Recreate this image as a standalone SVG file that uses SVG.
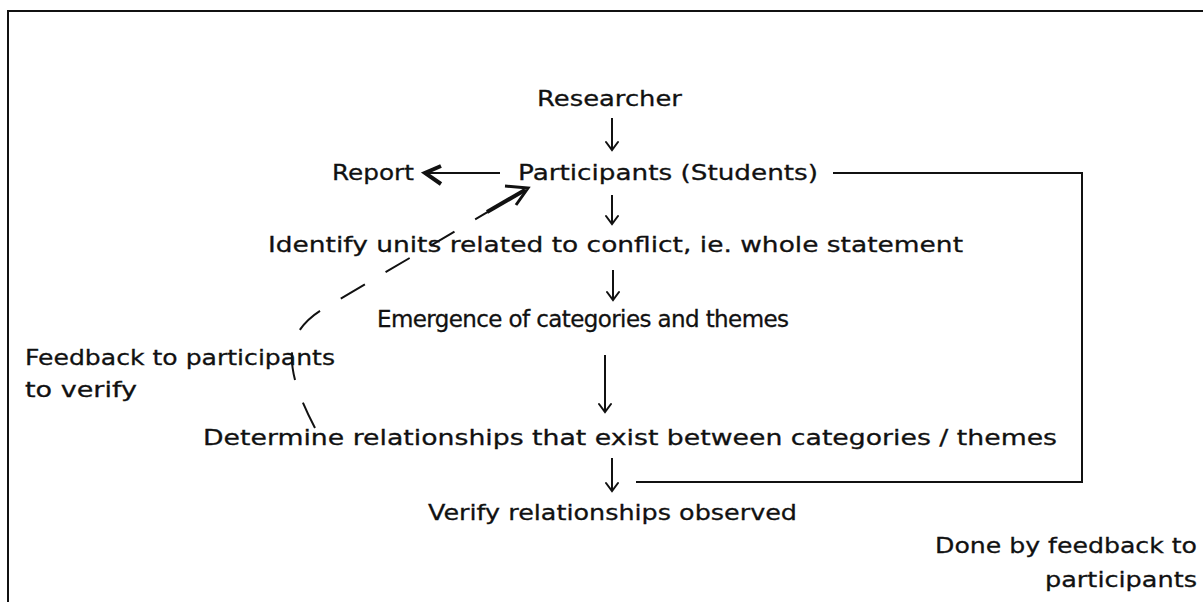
<svg xmlns="http://www.w3.org/2000/svg" width="1203" height="602" viewBox="0 0 1203 602">
<style>
text{font-family:"DejaVu Sans","Open Sans",sans-serif;font-size:22px;fill:#111;stroke:#111;stroke-width:0.3}
.ln{stroke:#111;stroke-width:2;fill:none}
</style>
<defs>
<marker id="v" markerWidth="14" markerHeight="14" refX="12" refY="7" orient="auto" markerUnits="userSpaceOnUse" viewBox="0 0 14 14">
<path d="M4 1 L12 7 L4 13" stroke="#111" stroke-width="2" fill="none" stroke-linecap="round"/>
</marker>
</defs>
<rect width="1203" height="602" fill="#fff"/>
<path class="ln" d="M8 602 V11 H1203"/>
<g id="researcher"><text x="537" y="106" textLength="145" lengthAdjust="spacingAndGlyphs">Researcher</text></g>
<g id="report"><text x="332" y="180" textLength="82" lengthAdjust="spacingAndGlyphs">Report</text></g>
<g id="participants"><text x="518" y="180" textLength="300" lengthAdjust="spacingAndGlyphs">Participants (Students)</text></g>
<g id="identify"><text x="268" y="252" textLength="695" lengthAdjust="spacingAndGlyphs">Identify units related to conflict, ie. whole statement</text></g>
<g id="emergence"><text x="377" y="327" style="font-size:23px;letter-spacing:-0.6px">Emergence of categories and themes</text></g>
<g id="feedback"><text x="25" y="365" textLength="310" lengthAdjust="spacingAndGlyphs">Feedback to participants</text><text x="25" y="397" textLength="112" lengthAdjust="spacingAndGlyphs">to verify</text></g>
<g id="determine"><text x="203" y="445" textLength="854" lengthAdjust="spacingAndGlyphs">Determine relationships that exist between categories / themes</text></g>
<g id="verify"><text x="428" y="520" textLength="369" lengthAdjust="spacingAndGlyphs">Verify relationships observed</text></g>
<g id="done"><text x="935" y="553" textLength="262" lengthAdjust="spacingAndGlyphs">Done by feedback to</text><text x="1045" y="587" textLength="152" lengthAdjust="spacingAndGlyphs">participants</text></g>
<g id="connectors">
<line class="ln" x1="612" y1="118" x2="612" y2="150" marker-end="url(#v)"/>
<line class="ln" x1="612" y1="195" x2="612" y2="224" marker-end="url(#v)"/>
<line class="ln" x1="613" y1="270" x2="613" y2="300" marker-end="url(#v)"/>
<line class="ln" x1="605" y1="355" x2="605" y2="412" marker-end="url(#v)"/>
<line class="ln" x1="612" y1="458" x2="612" y2="491" marker-end="url(#v)"/>
<line class="ln" x1="500" y1="173" x2="428" y2="173"/>
<path d="M441 166 L425 173 L441 184" stroke="#111" stroke-width="4" fill="none"/>
<path class="ln" d="M833 173 H1082 V482 H636"/>
<path class="ln" d="M315 428 C282 365 282 330 330 305 L525 190" stroke-dasharray="28 24"/>
<line x1="487" y1="212" x2="525" y2="190" stroke="#111" stroke-width="4"/>
<path d="M505 186 L528 188 L516 205" stroke="#111" stroke-width="3" fill="none"/>
</g>
</svg>
